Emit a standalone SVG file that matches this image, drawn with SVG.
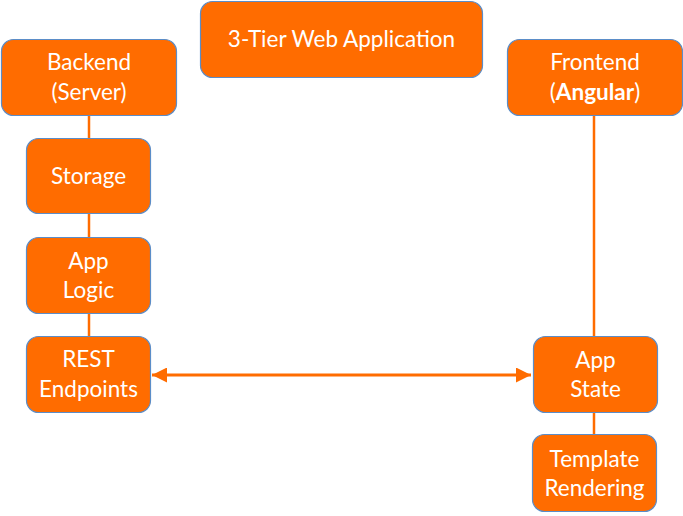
<svg xmlns="http://www.w3.org/2000/svg" width="683" height="516" viewBox="0 0 683 516">
<style>
.n{fill:#FF6C00;stroke:#5B8DC8;stroke-width:1.2}
.t{fill:#fff;font-family:Lato,"Open Sans",sans-serif;font-size:22.5px;text-anchor:middle}
.c{stroke:#FF6C00;stroke-width:2.5;fill:none}
</style>
<defs>
<marker id="ah" viewBox="0 0 10 10" refX="10" refY="5" markerWidth="5" markerHeight="5" orient="auto-start-reverse" markerUnits="strokeWidth">
<path d="M0,0 L10,5 L0,10 Z" fill="#FF6C00"/>
</marker>
</defs>
<rect width="683" height="516" fill="#fff"/>
<g id="connectors">
<line class="c" x1="89" y1="115" x2="89" y2="138"/>
<line class="c" x1="89" y1="213" x2="89" y2="237"/>
<line class="c" x1="89" y1="313" x2="89" y2="336"/>
<line class="c" x1="594" y1="115" x2="594" y2="336"/>
<line class="c" x1="594" y1="412" x2="594" y2="434"/>
<line x1="152" y1="375" x2="531" y2="375" stroke="#FF6C00" stroke-width="3" marker-start="url(#ah)" marker-end="url(#ah)"/>
</g>
<g id="title">
<rect class="n" x="200.5" y="1.5" width="282" height="76" rx="12"/>
<text class="t" x="341.5" y="47">3-Tier Web Application</text>
</g>
<g id="backend">
<rect class="n" x="1.5" y="39.5" width="175" height="76" rx="12"/>
<text class="t" x="89" y="70">Backend</text>
<text class="t" x="89" y="100">(Server)</text>
</g>
<g id="frontend">
<rect class="n" x="507.5" y="39.5" width="175" height="76" rx="12"/>
<text class="t" x="595" y="70">Frontend</text>
<text class="t" x="595" y="100">(<tspan font-weight="bold">Angular</tspan>)</text>
</g>
<g id="storage">
<rect class="n" x="26.5" y="138.5" width="124" height="75" rx="12"/>
<text class="t" x="88.5" y="184">Storage</text>
</g>
<g id="applogic">
<rect class="n" x="26.5" y="237.5" width="124" height="76" rx="12"/>
<text class="t" x="88.5" y="269">App</text>
<text class="t" x="88.5" y="298">Logic</text>
</g>
<g id="rest">
<rect class="n" x="26.5" y="336.5" width="124" height="76" rx="12"/>
<text class="t" x="88.5" y="367">REST</text>
<text class="t" x="88.5" y="397">Endpoints</text>
</g>
<g id="appstate">
<rect class="n" x="533.5" y="336.5" width="124" height="76" rx="12"/>
<text class="t" x="595.5" y="368">App</text>
<text class="t" x="595.5" y="397">State</text>
</g>
<g id="template">
<rect class="n" x="532.5" y="434.5" width="124" height="77" rx="12"/>
<text class="t" x="594.5" y="467">Template</text>
<text class="t" x="594.5" y="496">Rendering</text>
</g>
</svg>
